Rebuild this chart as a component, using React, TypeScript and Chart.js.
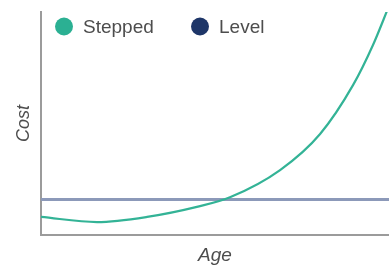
import React, { useEffect, useRef } from "react";
import { Chart, registerables } from "chart.js";

Chart.register(...registerables);

// Data (x: age 0-100, y: cost 0-100, arbitrary units)
const steppedAge = [0, 16.1, 30.5, 44.8, 54.3, 68.7, 80.2, 89.7, 95.4, 100];
const steppedCost = [8.1, 5.8, 8.1, 12.6, 16.9, 29.1, 45.3, 67.3, 85.2, 102.7];
const levelAge = [0, 100];
const levelCost = [15.9, 15.9];

const seriesNames = ["Stepped", "Level"];
const legendColors = ["#2bb093", "#1e3668"];
const lineColors = ["#33b396", "#8c99b9"];
const axisTitles = { x: "Age", y: "Cost" };

const FONT = "'Liberation Sans', Arial, Helvetica, sans-serif";

const legendPlugin = {
  id: "customLegend",
  afterDraw(chart: any) {
    const ctx = chart.ctx as CanvasRenderingContext2D;
    const centers = [64, 200];
    ctx.save();
    chart.data.datasets.forEach((ds: any, i: number) => {
      const cx = centers[i];
      const cy = 26.5;
      ctx.beginPath();
      ctx.fillStyle = ds.legendColor;
      ctx.arc(cx, cy, 9, 0, Math.PI * 2);
      ctx.fill();
      ctx.fillStyle = "#4d4d4d";
      ctx.font = `19px ${FONT}`;
      ctx.textBaseline = "alphabetic";
      ctx.textAlign = "left";
      ctx.fillText(ds.label, cx + 19, 33);
    });
    ctx.restore();
  },
};

export default function App() {
  const canvasRef = useRef<HTMLCanvasElement | null>(null);

  useEffect(() => {
    document.body.style.margin = "0";
    const canvas = canvasRef.current;
    if (!canvas) return;
    const chart = new Chart(canvas, {
      type: "line",
      data: {
        datasets: [
          {
            label: seriesNames[0],
            data: steppedAge.map((a, i) => ({ x: a, y: steppedCost[i] })),
            borderColor: lineColors[0],
            borderWidth: 2.2,
            pointRadius: 0,
            cubicInterpolationMode: "monotone",
            fill: false,
            legendColor: legendColors[0],
          } as any,
          {
            label: seriesNames[1],
            data: levelAge.map((a, i) => ({ x: a, y: levelCost[i] })),
            borderColor: lineColors[1],
            borderWidth: 3,
            pointRadius: 0,
            fill: false,
            legendColor: legendColors[1],
          } as any,
        ],
      },
      options: {
        animation: false,
        responsive: false,
        maintainAspectRatio: false,
        layout: { padding: { top: 12, left: 0, right: 0, bottom: 0 } },
        plugins: {
          legend: { display: false },
          tooltip: { enabled: false },
        },
        scales: {
          x: {
            type: "linear",
            min: 0,
            max: 100,
            grid: { display: false, drawTicks: false },
            ticks: { display: false },
            border: { display: true, color: "#9b9b9b", width: 2 },
            title: {
              display: true,
              text: axisTitles.x,
              color: "#4d4d4d",
              font: { family: FONT, size: 19, style: "italic", lineHeight: 1.2 },
              padding: { top: 0, bottom: 4 },
            },
            afterFit: (scale: any) => {
              scale.height = 36;
            },
          },
          y: {
            type: "linear",
            min: 0,
            max: 100,
            grid: { display: false, drawTicks: false },
            ticks: { display: false },
            border: { display: true, color: "#9b9b9b", width: 2 },
            title: {
              display: true,
              text: axisTitles.y,
              color: "#4d4d4d",
              font: { family: FONT, size: 18, style: "italic", lineHeight: 1.2 },
              padding: { top: 13, bottom: 0 },
            },
            afterFit: (scale: any) => {
              scale.width = 41;
            },
          },
        },
      },
      plugins: [legendPlugin],
    });
    return () => chart.destroy();
  }, []);

  return (
    <div style={{ width: 389, height: 271 }}>
      <canvas ref={canvasRef} width={389} height={271} style={{ display: "block" }} />
    </div>
  );
}
